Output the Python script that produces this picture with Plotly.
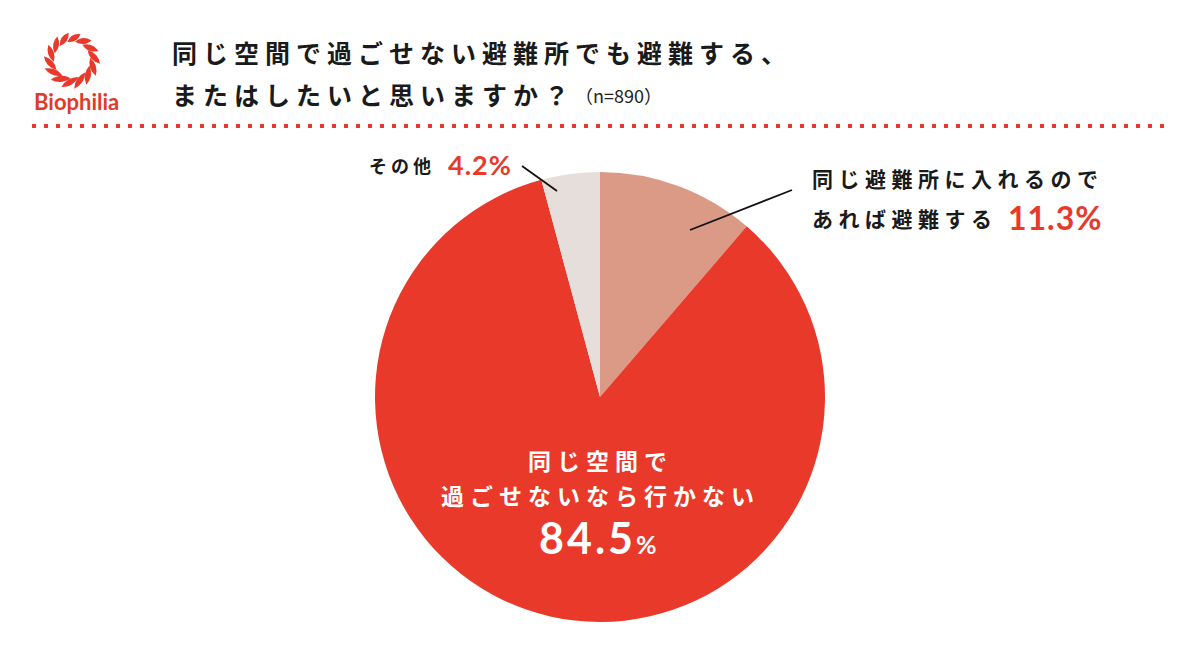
import math
import plotly.graph_objects as go

# ---------------- data ----------------
categories = ["同じ避難所に入れるのであれば避難する", "同じ空間で過ごせないなら行かない", "その他"]
values = [11.3, 84.5, 4.2]
slice_colors = ["#DB9A85", "#E8392A", "#E6DEDA"]

title_line1 = "同じ空間で過ごせない避難所でも避難する、"
title_line2 = "またはしたいと思いますか？"
sample_note = "（n=890）"
brand_name = "Biophilia"

label_other = "その他"
label_same_line1 = "同じ避難所に入れるので"
label_same_line2 = "あれば避難する"
label_no_line1 = "同じ空間で"
label_no_line2 = "過ごせないなら行かない"

# ---------------- layout constants ----------------
W, H = 1200, 654
RED = "#E8392A"
JP = "Noto Sans CJK JP"
NUM = "Lato"

fig = go.Figure()
fig.add_trace(go.Pie(
    labels=categories, values=values, sort=False, direction="clockwise", rotation=0,
    marker=dict(colors=slice_colors, line=dict(width=0)),
    textinfo="none", hoverinfo="label+percent", showlegend=False,
    domain=dict(x=[375 / W, 825 / W], y=[1 - 622 / H, 1 - 172 / H]),
))


def pct(v):
    return f"{v:.1f}"


def sp(text, ls):
    return f'<span style="letter-spacing:{ls}px">{text}</span>'


ann = []


def add(text, x, y, size, color="#1A1A1A", family=JP, weight=700, xanchor="left"):
    ann.append(dict(text=text, x=x, y=y, xref="x", yref="y", xanchor=xanchor, yanchor="middle",
                    showarrow=False, font=dict(family=family, size=size, color=color, weight=weight)))


# title
add(sp(title_line1, 6), 170, 52, 25)
add(sp(title_line2, 6), 170, 94, 25)
add(sample_note, 573, 95, 18, color="#222222", weight=400)

# other
add(sp(label_other, 4), 367, 165, 18)
add(sp(pct(values[2]) + "%", 1), 446, 164, 27, color=RED, family=NUM)

# same shelter
add(sp(label_same_line1, 5.5), 810, 178, 21)
add(sp(label_same_line2, 5.5), 810, 218, 21)
add(sp(pct(values[0]) + "%", 1), 1006, 217, 32, color=RED, family=NUM)

# won't go
add(sp(label_no_line1, 6), 600, 460, 23, color="white", xanchor="center")
add(sp(label_no_line2, 6), 600, 495, 23, color="white", xanchor="center")
add(sp(pct(values[1]), 3) + '<span style="font-size:25px">%</span>', 598, 537, 43, color="white",
    family=NUM, xanchor="center")

# brand
add(brand_name, 76, 101, 22, color="#E03A2A", family=NUM, weight=700, xanchor="center")

shapes = []
# leader lines
shapes.append(dict(type="line", xref="x", yref="y", x0=522, y0=166, x1=557, y1=191,
                   line=dict(color="#111111", width=1.8)))
shapes.append(dict(type="line", xref="x", yref="y", x0=792, y0=190, x1=690, y1=230,
                   line=dict(color="#111111", width=1.8)))
# dotted separator
shapes.append(dict(type="line", xref="x", yref="y", x0=32, y0=126, x1=1164, y1=126,
                   line=dict(color=RED, width=4, dash="4px,8px")))

# logo wreath of leaves
cx, cy, R = 72, 60, 22
n_leaves = 14
for i in range(n_leaves):
    th = math.radians(i * 360 / n_leaves + 5)
    c = (cx + R * math.sin(th), cy - R * math.cos(th))
    tilt = math.radians(-35)
    ang = th + tilt
    d = (math.cos(ang), math.sin(ang))
    nrm = (-d[1], d[0])
    L = 7.5 + 2.5 * math.sin(th / 2)
    w = 3.0
    A = (c[0] - L * d[0], c[1] - L * d[1])
    B = (c[0] + L * d[0], c[1] + L * d[1])
    P1 = (c[0] + 2 * w * nrm[0], c[1] + 2 * w * nrm[1])
    P2 = (c[0] - 2 * w * nrm[0], c[1] - 2 * w * nrm[1])
    path = (f"M{A[0]:.2f},{A[1]:.2f} Q{P1[0]:.2f},{P1[1]:.2f} {B[0]:.2f},{B[1]:.2f} "
            f"Q{P2[0]:.2f},{P2[1]:.2f} {A[0]:.2f},{A[1]:.2f} Z")
    shapes.append(dict(type="path", xref="x", yref="y", path=path,
                       fillcolor=RED, line=dict(width=0)))

fig.update_layout(
    width=W, height=H, margin=dict(l=0, r=0, t=0, b=0),
    paper_bgcolor="white", plot_bgcolor="rgba(0,0,0,0)",
    xaxis=dict(range=[0, W], visible=False, fixedrange=True, domain=[0, 1]),
    yaxis=dict(range=[H, 0], visible=False, fixedrange=True, domain=[0, 1]),
    annotations=ann, shapes=shapes, showlegend=False,
)

fig.write_html("out.html", config={"displayModeBar": False},
               post_script="document.body.style.margin='0';document.body.style.overflow='hidden';")
